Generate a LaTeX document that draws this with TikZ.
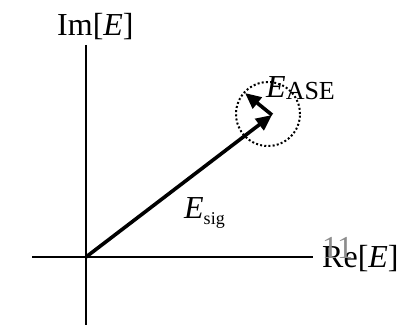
\documentclass[tikz,border=0pt]{standalone}
\usepackage{fontspec}
\setmainfont{Liberation Serif}
\usetikzlibrary{arrows.meta}
\begin{document}
\begin{tikzpicture}[x=1pt,y=-1pt,
  axis/.style={line width=1.4pt},
  vec/.style={line width=3.6pt,-{Triangle[length=16pt,width=14pt]}},
  ring/.style={circle,draw,line width=2pt,dash pattern=on 2pt off 2.2pt,minimum size=64pt,inner sep=0pt},
  lbl/.style={font=\fontsize{32}{38}\selectfont,inner sep=0pt,anchor=base west}]
\useasboundingbox (0,0) rectangle (404,329);
\coordinate (O) at (86,257);
\coordinate (xl) at (32,257);
\coordinate (xr) at (313,257);
\coordinate (yt) at (86,45);
\coordinate (yb) at (86,325);
\draw[axis] (xl) -- (xr);
\draw[axis] (yt) -- (yb);
\node[ring] (C) at (268,114) {};
\coordinate (P) at (272,115);
\coordinate (Q) at (245,93);
\draw[vec] (O) -- (P);
\draw[vec] (P) -- (Q);
\node[lbl] (im) at (57,36) {Im[\textit{E}]};
\node[lbl] (re) at (322,267) {Re[\textit{E}]};
\node[lbl,text=black!45] (pg) at (322,258) {11};
\node[lbl] (ease) at (266,97) {\textit{E}\raisebox{-2pt}{\fontsize{26}{30}\selectfont ASE}};
\node[lbl] (esig) at (184,218) {\textit{E}\raisebox{-6pt}{\fontsize{18}{21}\selectfont sig}};
\end{tikzpicture}
\end{document}
